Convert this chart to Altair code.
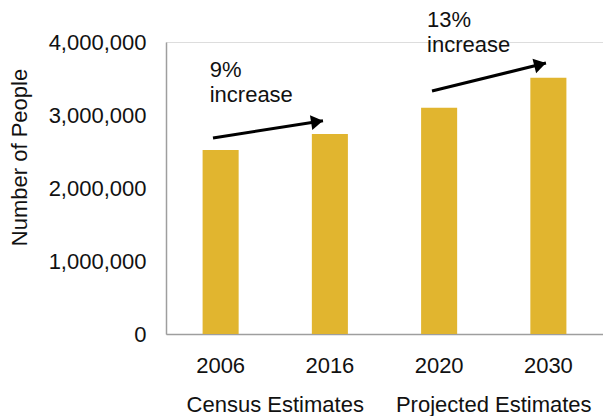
import altair as alt
import pandas as pd

# ---- data ----
years = ["2006", "2016", "2020", "2030"]
people = [2520000, 2740000, 3100000, 3510000]

y_ticks = [0, 1000000, 2000000, 3000000, 4000000]

group_names = ["Census Estimates", "Projected Estimates"]
group_pos = [1.0, 3.0]          # position on a 0-4 category axis (centres at 0.5, 1.5, ...)

note_text = ["9%\nincrease", "13%\nincrease"]
note_x = [0.40, 2.39]
note_y = [3753000, 4442000]

arrow_x = [0.43, 2.435]
arrow_y = [2685000, 3329000]
arrow_x2 = [1.437, 3.478]
arrow_y2 = [2920000, 3712000]
arrow_angle = [351, 346]

FONT = "Liberation Sans"
GOLD = "#E1B52F"
TXT = "#111111"
AXC = "#9E9E9E"
W, H = 437, 292

bars_df = pd.DataFrame({"year": years, "people": people})
notes_df = pd.DataFrame({"t": note_text, "x": note_x, "y": note_y})
groups_df = pd.DataFrame({"g": group_names, "x": group_pos})
arrows_df = pd.DataFrame({"x": arrow_x, "y": arrow_y, "x2": arrow_x2, "y2": arrow_y2,
                          "ang": arrow_angle})

yscale = alt.Scale(domain=[0, 4000000], nice=False)
xq = alt.Scale(domain=[0, 4], nice=False, zero=False)

# thousands-separated labels (e.g. 4,000,000)
ylab = ("datum.value == 0 ? '0' : "
        "(floor(datum.value / 1000000) + ',' + "
        "slice('000' + floor((datum.value % 1000000) / 1000), -3) + ',' + "
        "slice('000' + (datum.value % 1000), -3))")

bars = alt.Chart(bars_df).mark_bar(color=GOLD).encode(
    x=alt.X("year:N", sort=years, title=None,
            scale=alt.Scale(paddingInner=0.67, paddingOuter=0.335),
            axis=alt.Axis(labelAngle=0, ticks=False, tickSize=0, labelPadding=21,
                          labelFontSize=22, labelFont=FONT, labelColor=TXT,
                          domainColor=AXC, domainWidth=1.5, grid=False)),
    y=alt.Y("people:Q", scale=yscale, title="Number of People",
            axis=alt.Axis(values=y_ticks, labelExpr=ylab,
                          ticks=False, tickSize=0, labelPadding=20, grid=False,
                          labelFontSize=22, labelFont=FONT, labelColor=TXT,
                          domainColor=AXC, domainWidth=1.5,
                          titleFontSize=22, titleFont=FONT, titleColor=TXT,
                          titleFontWeight="normal", titleX=-147, titleY=115,
                          titleBaseline="middle", titleAlign="center")),
)

arrow_lines = alt.Chart(arrows_df).mark_rule(color="black", strokeWidth=3).encode(
    x=alt.X("x:Q", scale=xq, axis=None),
    x2="x2:Q",
    y=alt.Y("y:Q", scale=yscale, axis=None),
    y2="y2:Q",
)

heads = alt.Chart(arrows_df).mark_point(
    shape="M0,0L-1.6,-1L-1.6,1Z", filled=True, color="black", opacity=1, size=225
).encode(
    x=alt.X("x2:Q", scale=xq, axis=None),
    y=alt.Y("y2:Q", scale=yscale, axis=None),
    angle=alt.Angle("ang:Q", scale=None),
)

notes = alt.Chart(notes_df).mark_text(
    align="left", baseline="top", fontSize=22, font=FONT, color=TXT,
    lineBreak="\n", lineHeight=25
).encode(
    x=alt.X("x:Q", scale=xq, axis=None),
    y=alt.Y("y:Q", scale=yscale, axis=None),
    text="t:N",
)

groups = alt.Chart(groups_df).mark_text(
    align="center", baseline="alphabetic", fontSize=22, font=FONT, color=TXT
).encode(
    x=alt.X("x:Q", scale=xq, axis=None),
    y=alt.value(H + 78),
    text="g:N",
)

chart = alt.layer(bars, arrow_lines, heads, notes, groups).resolve_scale(
    x="independent"
).resolve_axis(
    x="independent", y="independent"
).properties(
    width=W, height=H,
    autosize=alt.AutoSizeParams(type="none"),
    padding={"left": 166, "top": 42, "right": 0, "bottom": 82},
).configure_view(stroke=None).configure(background="white")

chart.save("out.html", embed_options={"renderer": "svg", "actions": False})
